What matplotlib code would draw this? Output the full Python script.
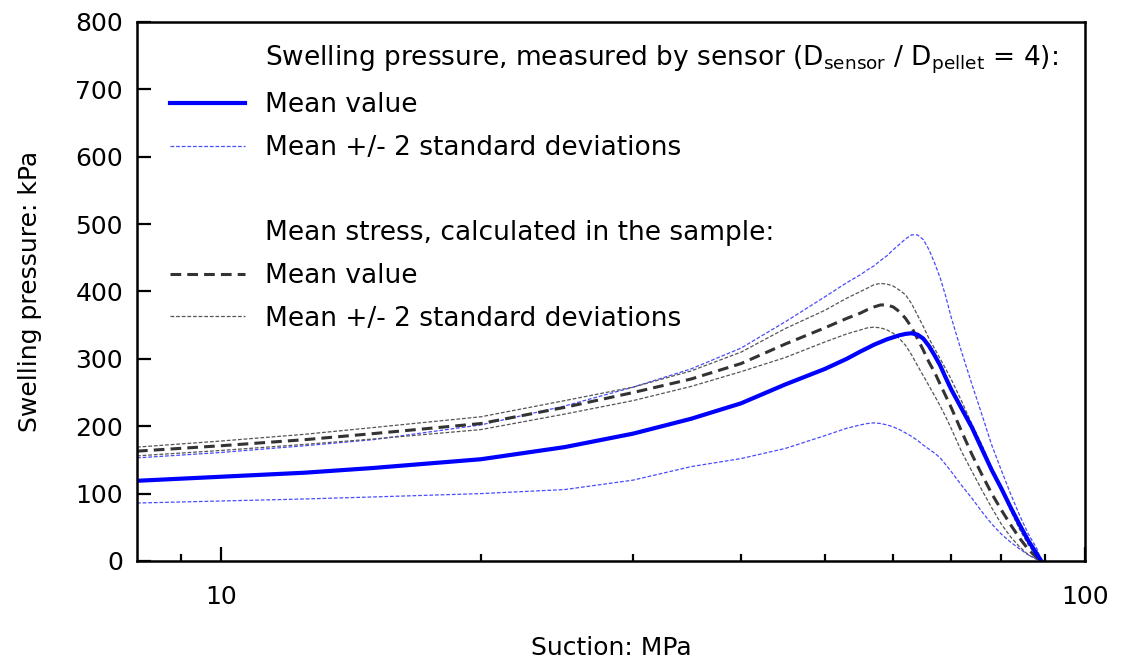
import numpy as np
import matplotlib
matplotlib.use('Agg')
import matplotlib.pyplot as plt
from matplotlib.lines import Line2D

suction = [8, 10, 12.5, 15, 20, 25, 30, 35, 40, 45, 50, 53, 55, 56, 57, 58, 59, 60, 61, 62, 63, 64,
           65, 66, 67, 68, 69, 70, 72, 74, 76, 78, 80, 82, 84, 86, 88, 89]

# Swelling pressure measured by sensor (kPa)
sensor_mean = [119, 125, 131, 138, 151, 169, 189, 211, 234, 262, 285, 300, 311, 316, 321, 325, 329, 332,
               335, 337, 338, 336, 330, 319, 305, 290, 272, 255, 226, 198, 166, 135, 108, 80, 54, 30, 10, 0]
sensor_upper = [153, 161, 171, 180, 202, 230, 258, 285, 316, 355, 392, 413, 425, 432, 438, 446, 453, 462,
                470, 478, 484, 484, 477, 462, 442, 420, 393, 362, 310, 262, 217, 172, 135, 100, 68, 40, 18, 0]
sensor_lower = [86, 89, 92, 95, 100, 106, 120, 140, 152, 167, 186, 197, 202, 204, 205, 204, 202, 199,
                195, 190, 185, 179, 172, 166, 160, 153, 143, 133, 112, 93, 73, 55, 40, 28, 18, 9, 3, 0]

# Mean stress calculated in the sample (kPa)
stress_mean = [163, 171, 180, 189, 204, 228, 250, 270, 293, 322, 346, 360, 368, 373, 377, 380, 380, 377,
               370, 360, 347, 330, 313, 295, 280, 262, 245, 228, 192, 158, 128, 100, 76, 54, 34, 17, 5, 0]
stress_upper = [169, 178, 188, 198, 214, 238, 258, 282, 310, 345, 372, 390, 400, 405, 410, 412, 411, 408,
                402, 395, 382, 365, 348, 330, 315, 300, 285, 270, 237, 203, 172, 138, 107, 75, 47, 24, 6, 0]
stress_lower = [156, 164, 173, 181, 195, 218, 238, 259, 281, 302, 325, 337, 343, 346, 347, 346, 343, 338,
                330, 320, 306, 290, 275, 260, 245, 230, 214, 197, 162, 133, 105, 79, 55, 36, 21, 9, 2, 0]

plt.rcParams['font.family'] = 'DejaVu Sans'
plt.rcParams['mathtext.default'] = 'regular'

fig = plt.figure(figsize=(11.22, 6.66), dpi=100)
ax = fig.add_axes([0.1221, 0.1577, 0.8449, 0.8093])

blue = '#0000ff'
lblue = '#4a4aff'
dark = '#333333'
grey = '#555555'
thin = dict(lw=0.9, dashes=(3, 1.5))

ax.plot(suction, sensor_upper, color=lblue, **thin)
ax.plot(suction, sensor_lower, color=lblue, **thin)
ax.plot(suction, stress_upper, color=grey, **thin)
ax.plot(suction, stress_lower, color=grey, **thin)
ax.plot(suction, stress_mean, color=dark, lw=2.2, dashes=(3.5, 2))
ax.plot(suction, sensor_mean, color=blue, lw=3)

ax.set_xscale('log')
ax.set_xlim(8, 100)
ax.set_ylim(0, 800)
ax.set_yticks(np.arange(0, 801, 100))
ax.set_xticks([10, 100])
ax.set_xticklabels(['10', '100'])
ax.set_xticks([9, 20, 30, 40, 50, 60, 70, 80, 90], minor=True)
ax.xaxis.set_minor_formatter(plt.NullFormatter())

ax.tick_params(axis='both', which='major', direction='in', length=10, width=1.6, labelsize=18, pad=10)
ax.tick_params(axis='x', which='minor', direction='in', length=5, width=1.6)
ax.tick_params(axis='x', which='major', pad=17)
for s in ax.spines.values():
    s.set_linewidth(1.8)

ax.set_xlabel('Suction: MPa', fontsize=18, labelpad=20)
ax.set_ylabel('Swelling pressure: kPa', fontsize=18, labelpad=24)

blank = Line2D([], [], color='none')
handles = [blank,
           Line2D([], [], color=blue, lw=3),
           Line2D([], [], color=lblue, **thin),
           blank,
           blank,
           Line2D([], [], color=dark, lw=2.2, dashes=(3.5, 2)),
           Line2D([], [], color=grey, **thin)]
labels = ['Swelling pressure, measured by sensor (D$_{sensor}$ / D$_{pellet}$ = 4):',
          'Mean value',
          'Mean +/- 2 standard deviations',
          ' ',
          'Mean stress, calculated in the sample:',
          'Mean value',
          'Mean +/- 2 standard deviations']
ax.legend(handles, labels, loc='upper left', bbox_to_anchor=(0.035, 0.96), frameon=False,
          fontsize=19, handlelength=2.84, handletextpad=0.76, labelspacing=0.63, borderaxespad=0,
          borderpad=0)

fig.savefig('out.png', dpi=100)
